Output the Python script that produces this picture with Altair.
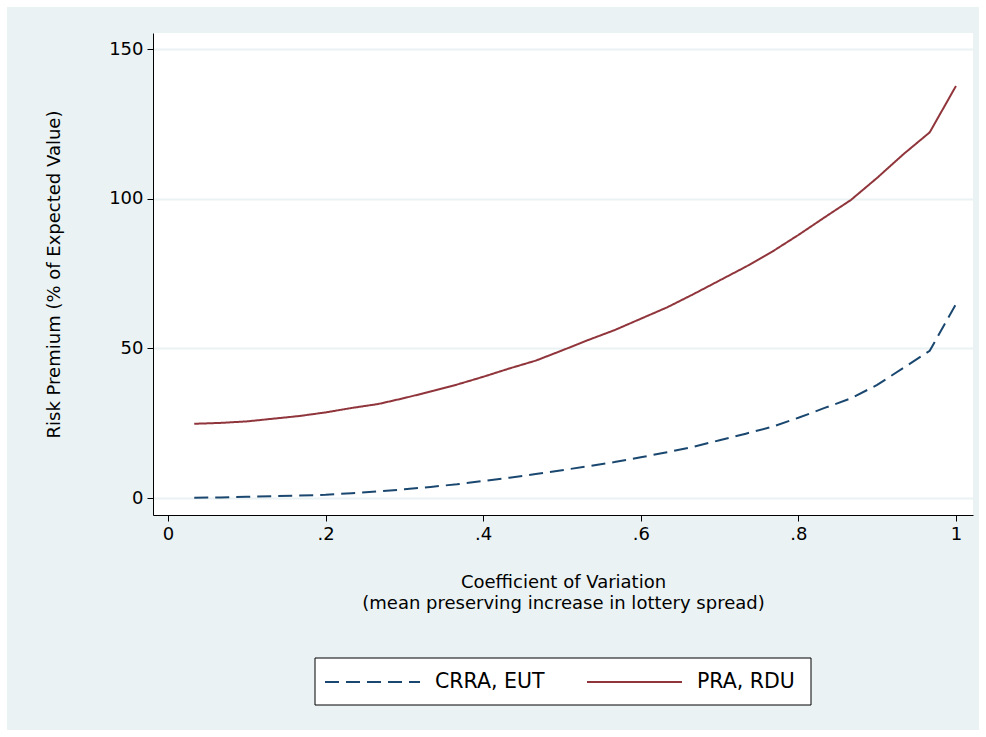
import altair as alt
import pandas as pd

# Coefficient of variation grid (k/30)
cv = [k / 30 for k in range(1, 31)]
crra_eut = [0.1, 0.2, 0.4, 0.6, 0.8, 1.1, 1.6, 2.2, 2.9, 3.7,
            4.6, 5.7, 6.8, 8.0, 9.3, 10.6, 12.0, 13.6, 15.3, 17.1,
            19.3, 21.5, 23.8, 26.8, 30.1, 33.3, 37.8, 43.5, 49.2, 64.8]
pra_rdu = [24.8, 25.1, 25.6, 26.5, 27.4, 28.6, 30.1, 31.4, 33.4, 35.6,
           37.9, 40.5, 43.3, 45.9, 49.3, 52.8, 56.1, 59.9, 63.7, 68.1,
           72.7, 77.3, 82.3, 87.9, 93.8, 99.6, 107.0, 114.9, 122.2, 137.7]
series_names = ["CRRA, EUT", "PRA, RDU"]
series_colors = ["#1a476f", "#90353b"]
series_dash = [[14, 7], [1, 0]]
y_ticks = [0, 50, 100, 150]
x_ticks = [0, 0.2, 0.4, 0.6, 0.8, 1.0]

rows = []
for x, a, b in zip(cv, crra_eut, pra_rdu):
    rows.append({"cv": x, "rp": a, "series": series_names[0]})
    rows.append({"cv": x, "rp": b, "series": series_names[1]})
df = pd.DataFrame(rows)

W, H = 820, 482
FONT = "DejaVu Sans"
FS = 18
LFS = 20.5
BG = "#EAF2F3"

xscale = alt.Scale(domain=[-0.019, 1.0216], nice=False, zero=False)
yscale = alt.Scale(domain=[-5.68, 155.4], nice=False, zero=False)
cscale = alt.Scale(domain=series_names, range=series_colors)
dscale = alt.Scale(domain=series_names, range=series_dash)

one = pd.DataFrame({"a": [0]})

lines = alt.Chart(df).mark_line(strokeWidth=2).encode(
    x=alt.X("cv:Q", scale=xscale,
            axis=alt.Axis(values=x_ticks,
                          labelExpr="datum.value == 0 ? '0' : datum.value == 1 ? '1' : replace(format(datum.value, '.1f'), '0.', '.')",
                          title=["Coefficient of Variation",
                                 "(mean preserving increase in lottery spread)"],
                          titlePadding=30, titleLineHeight=21, grid=False)),
    y=alt.Y("rp:Q", scale=yscale,
            axis=alt.Axis(values=y_ticks, title="Risk Premium (% of Expected Value)",
                          titlePadding=45, grid=True, gridColor=BG, gridWidth=2)),
    color=alt.Color("series:N", scale=cscale, legend=None),
    strokeDash=alt.StrokeDash("series:N", scale=dscale, legend=None),
    detail="series:N",
)

# white outer frame (Stata graph region margin)
frame = alt.Chart(one).mark_rect(fill=None, stroke="white", strokeWidth=14).encode(
    x=alt.value(-153), x2=alt.value(833), y=alt.value(-33), y2=alt.value(704)
)

# legend box built from the series list
LX, LY = 162, 625
legend_box = alt.Chart(one).mark_rect(fill="white", stroke="black", strokeWidth=1).encode(
    x=alt.value(LX), x2=alt.value(LX + 496), y=alt.value(LY), y2=alt.value(LY + 47)
)
leg_df = pd.DataFrame({"series": series_names, "i": [0, 1]})
leg_layers = []
for i, name in enumerate(series_names):
    sub = leg_df[leg_df["i"] == i]
    x0 = LX + 10 + i * 262
    sym = alt.Chart(sub).mark_rule(strokeWidth=2, strokeDash=series_dash[i]).encode(
        x=alt.value(x0), x2=alt.value(x0 + 95), y=alt.value(LY + 24),
        color=alt.Color("series:N", scale=cscale, legend=None),
    )
    txt = alt.Chart(sub).mark_text(align="left", baseline="middle", font=FONT,
                                   fontSize=LFS, color="black").encode(
        x=alt.value(x0 + 110), y=alt.value(LY + 24), text="series:N"
    )
    leg_layers += [sym, txt]

chart = alt.layer(lines, frame, legend_box, *leg_layers).properties(
    width=W, height=H,
    autosize=alt.AutoSizeParams(type="none"),
    padding={"left": 153, "top": 33, "right": 13, "bottom": 222},
    background=BG,
).configure_view(stroke=None, fill="white").configure_axis(
    domainColor="black", domainWidth=1,
    tickColor="black", tickSize=6, tickWidth=1,
    labelFont=FONT, labelFontSize=FS, labelColor="black", labelPadding=4,
    titleFont=FONT, titleFontSize=FS, titleColor="black", titleFontWeight="normal",
)

chart.save("out.html", embed_options={"renderer": "svg", "actions": False})
